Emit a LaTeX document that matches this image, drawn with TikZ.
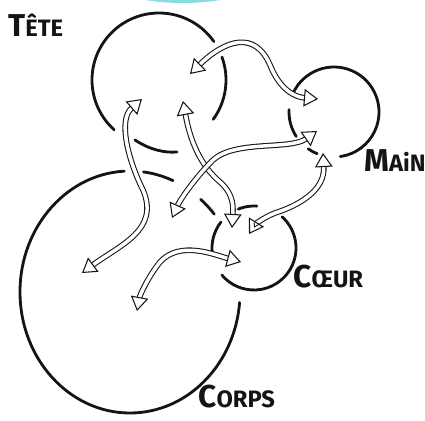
\documentclass[tikz,border=0pt]{standalone}
\usepackage{fontspec}
\setmainfont{Fira Sans}
\usepackage{xcolor}
\usetikzlibrary{arrows.meta}
\definecolor{ink}{RGB}{20,20,20}
\definecolor{topcyan}{RGB}{110,210,222}
\newcommand{\bigfirst}[2]{{\fontsize{18}{18}\selectfont #1}{\fontsize{13.5}{13.5}\selectfont #2}}

\begin{document}
\begin{tikzpicture}[x=0.02cm,y=-0.02cm,
    rim/.style={line width=1.6pt,ink,line cap=round},
    arr/.style={draw=ink,double=white,line width=0.6pt,double distance=2pt,
      {Triangle[open,length=8pt,width=10pt]}-{Triangle[open,length=8pt,width=10pt]}},
    lbl/.style={anchor=base west,inner sep=0pt,font=\bfseries,text=ink}]
  \useasboundingbox (0,0) rectangle (425,421);
  \clip (0,0) rectangle (425,421);
  % cyan strip at the top edge
  \fill[topcyan!80] (183,-12) ellipse[x radius=62,y radius=15];
  % tete
  \draw[rim] (159,80) ++(132:67) arc[start angle=132,end angle=325,radius=67];
  \draw[rim] (159,80) ++(-20:67) arc[start angle=-20,end angle=36,radius=67];
  \draw[rim] (135,140) .. controls (150,150) and (165,153) .. (177,152);
  % main
  \draw[rim] (334,112) ++(204:45) arc[start angle=204,end angle=442,radius=45];
  \draw[rim] (334,112) ++(183:45) arc[start angle=183,end angle=147,radius=45];
  \draw[rim] (334,112) ++(125:45) arc[start angle=125,end angle=112,radius=45];
  % coeur
  \draw[rim] (254,248) ++(218:42) arc[start angle=218,end angle=172,radius=42];
  \draw[rim] (254,248) ++(248:42) arc[start angle=248,end angle=274,radius=42];
  \draw[rim] (254,248) ++(-48:42) arc[start angle=-48,end angle=140,radius=42];
  % corps
  \draw[rim] (130,292) ++(267:110 and 121) arc[start angle=267,end angle=5,x radius=110,y radius=121];
  \draw[rim] (130,292) ++(277:110 and 121) arc[start angle=277,end angle=293,x radius=110,y radius=121];
  \draw[rim] (130,292) ++(310:110 and 121) arc[start angle=310,end angle=320,x radius=110,y radius=121];
  % labels
  \node[lbl] (tete) at (8,37) {\bigfirst{T}{ÊTE}};
  \node[lbl] (main) at (364,172) {\bigfirst{M}{AiN}};
  \node[lbl] (coeur) at (293,288) {\bigfirst{C}{ŒUR}};
  \node[lbl] (corps) at (198,407) {\bigfirst{C}{ORPS}};
  % arrow ends
  \coordinate (te1) at (190,74);
  \coordinate (te2) at (142,99);
  \coordinate (te3) at (183,101);
  \coordinate (ma1) at (318,99);
  \coordinate (ma2) at (317,131);
  \coordinate (ma3) at (323,153);
  \coordinate (cu1) at (232,228);
  \coordinate (cu2) at (249,234);
  \coordinate (cu3) at (241,262);
  \coordinate (co1) at (82,273);
  \coordinate (co2) at (172,218);
  \coordinate (co3) at (137,311);
  % links
  \draw[arr] (te1) .. controls (225,40) and (255,30) .. (270,65) .. controls (280,90) and (295,97) .. (ma1);
  \draw[arr] (co1) .. controls (120,245) and (160,230) .. (143,190) .. controls (128,160) and (118,120) .. (te2);
  \draw[arr] (te3) .. controls (190,140) and (200,165) .. (220,182) .. controls (235,195) and (233,210) .. (cu1);
  \draw[arr] (ma2) .. controls (290,150) and (235,140) .. (213,160) .. controls (195,178) and (180,200) .. (co2);
  \draw[arr] (ma3) .. controls (325,190) and (300,205) .. (275,213) .. controls (262,218) and (254,226) .. (cu2);
  \draw[arr] (cu3) .. controls (215,255) and (180,240) .. (160,262) .. controls (148,277) and (140,295) .. (co3);
\end{tikzpicture}
\end{document}
